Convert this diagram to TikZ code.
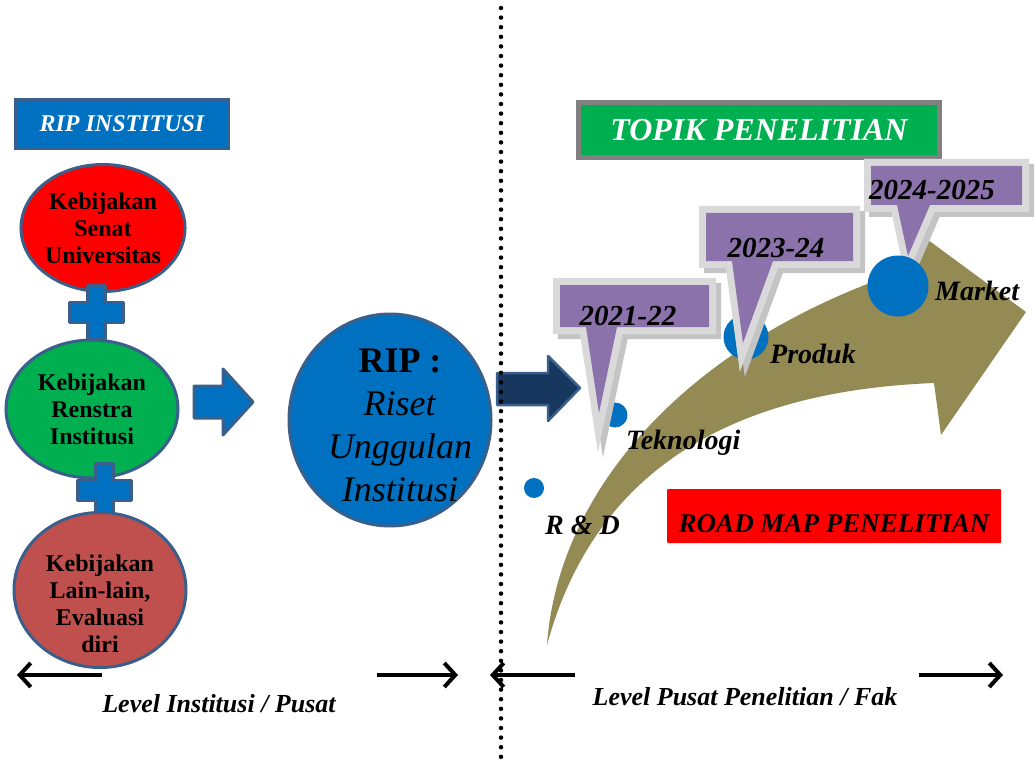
\documentclass[tikz,border=0pt]{standalone}
\usepackage{fontspec}
\setmainfont{Liberation Serif}
\usetikzlibrary{arrows.meta,calc,shapes.geometric}
\newcommand\fsz[2]{\fontsize{#1}{#2}\selectfont}
\definecolor{cblue}{HTML}{0070C0}
\definecolor{cbord}{HTML}{3A5F8B}
\definecolor{cred}{HTML}{FF0000}
\definecolor{cgreen}{HTML}{00B050}
\definecolor{cbrown}{HTML}{C0504D}
\definecolor{cnavy}{HTML}{17375E}
\definecolor{cpurple}{HTML}{8B72AA}
\definecolor{colive}{HTML}{948A54}
\definecolor{cgray}{HTML}{808080}
\definecolor{clight}{HTML}{D9D9D9}
\definecolor{cshadow}{HTML}{C4C4C4}
\tikzset{
  plussign/.pic={\draw[blk] (-27,-10) -- (-9,-10) -- (-9,-27) -- (9,-27) -- (9,-10) -- (27,-10) -- (27,10) -- (9,10) -- (9,27) -- (-9,27) -- (-9,10) -- (-27,10) -- cycle;},
}
\begin{document}
\begin{tikzpicture}[x=1pt,y=-1pt,
  blk/.style={draw=cbord, line width=3pt, fill=cblue, line join=round},
  ell/.style={ellipse, draw=cbord, line width=3pt, inner sep=0pt, align=center, font=\fsz{24}{27}\bfseries},
  lbl/.style={font=\fsz{28}{30}\bfseries\itshape, anchor=base west, inner sep=0pt},
  yr/.style={font=\fsz{29}{30}\bfseries\itshape, anchor=base, inner sep=0pt},
  callfill/.style={fill=cpurple},
  callframe/.style={draw=clight, line width=14pt, line join=miter},
  callshadow/.style={draw=cshadow, fill=cshadow, line width=14pt, line join=miter},
  lvlarrow/.style={line width=4pt, -{Straight Barb[length=11pt,width=24pt]}},
  lvltext/.style={font=\fsz{26}{28}\bfseries\itshape, anchor=base, inner sep=0pt}
]
\useasboundingbox (0,0) rectangle (1036,762);

% ---------- left part ----------
\node[draw=cbord, line width=3pt, fill=cblue, minimum width=213pt, minimum height=49pt,
      text=white, font=\fsz{24}{24}\bfseries\itshape] (ripinst) at (122,124) {RIP INSTITUSI};

\node[ell, fill=cred, minimum width=161pt, minimum height=127pt] (senat) at (103,228) {Kebijakan\\Senat\\Universitas};
\pic at (96,312) {plussign};
\node[ell, fill=cgreen, minimum width=172pt, minimum height=138pt] (renstra) at (92,409) {Kebijakan\\Renstra\\Institusi};
\pic at (104,490) {plussign};
\node[ell, fill=cbrown, minimum width=172pt, minimum height=155pt] (lain) at (100,590) {};
\node[align=center, font=\fsz{24}{27}\bfseries] (laintext) at (100,604) {Kebijakan\\Lain-lain,\\Evaluasi\\diri};

\draw[blk] (194,386) -- (223,386) -- (223,369) -- (253,402) -- (223,435) -- (223,418) -- (194,418) -- cycle;

\node[ellipse, draw=cbord, line width=3pt, fill=cblue, minimum width=202pt, minimum height=212pt] (rip) at (390,420) {};
\node[align=center, font=\fsz{36}{43}, anchor=base] (riptext) at (400,501)
  {\textbf{RIP :}\\\textit{Riset}\\\textit{Unggulan}\\\textit{Institusi}};

% ---------- right part ----------
\draw[draw=cbord, line width=2.5pt, fill=cnavy, line join=round]
  (497,373) -- (548,373) -- (548,356) -- (580,388) -- (548,421) -- (548,405) -- (497,405) -- cycle;

\node[draw=cgray, line width=5pt, fill=cgreen, minimum width=361pt, minimum height=55pt,
      text=white, font=\fsz{32}{32}\bfseries\itshape] (topik) at (759,130) {TOPIK PENELITIAN};

% olive curved arrow
\fill[colive] (547,645) .. controls (558,488) and (690,340) .. (912,268)
  -- (924,237) -- (1026,312) -- (941,435) -- (934,383)
  .. controls (760,390) and (600,450) .. (547,645) -- cycle;

% dots
\fill[cblue] (534,488) circle (10);
\fill[cblue] (615,415) circle (12.5);
\fill[cblue] (746,337) circle (22.5);

% callouts
\path[callshadow, shift={(5,5)}] (560,285) -- (709,285) -- (709,327) -- (617,327) -- (599,413) -- (586,327) -- (560,327) -- cycle;
\path[callframe] (560,285) -- (709,285) -- (709,327) -- (617,327) -- (599,413) -- (586,327) -- (560,327) -- cycle;
\path[callfill] (560,285) -- (709,285) -- (709,327) -- (617,327) -- (599,413) -- (586,327) -- (560,327) -- cycle;
\node[yr] (y1) at (628,325) {2021-22};

\path[callshadow, shift={(5,5)}] (706,213) -- (853,213) -- (853,261) -- (773,261) -- (743,343) -- (732,261) -- (706,261) -- cycle;
\path[callframe] (706,213) -- (853,213) -- (853,261) -- (773,261) -- (743,343) -- (732,261) -- (706,261) -- cycle;
\path[callfill] (706,213) -- (853,213) -- (853,261) -- (773,261) -- (743,343) -- (732,261) -- (706,261) -- cycle;
\node[yr] (y2) at (776,257) {2023-24};

\path[callshadow, shift={(5,5)}] (871,166) -- (1022,166) -- (1022,205) -- (930,205) -- (908,256) -- (897,205) -- (871,205) -- cycle;
\path[callframe] (871,166) -- (1022,166) -- (1022,205) -- (930,205) -- (908,256) -- (897,205) -- (871,205) -- cycle;
\path[callfill] (871,166) -- (1022,166) -- (1022,205) -- (930,205) -- (908,256) -- (897,205) -- (871,205) -- cycle;
\node[yr] (y3) at (932,200) {2024-2025};

\fill[cblue] (898,286) circle (30.5);

% labels
\node[lbl] (market) at (935,300) {Market};
\node[lbl] (produk) at (770,363) {Produk};
\node[lbl] (teknologi) at (626,449) {Teknologi};
\node[lbl] (rnd) at (545,534) {R \& D};

\node[fill=cred, minimum width=334pt, minimum height=54pt, rounded corners=1pt, text height=33pt,
      font=\fsz{27}{27}\bfseries\itshape] (roadmap) at (834,516) {ROAD MAP PENELITIAN};

% level arrows
\coordinate (l1s) at (102,675); \coordinate (l1e) at (17,675);
\coordinate (l2s) at (377,675); \coordinate (l2e) at (458,675);
\coordinate (l3s) at (575,675); \coordinate (l3e) at (490,675);
\coordinate (l4s) at (919,675); \coordinate (l4e) at (1003,675);
\draw[lvlarrow] (l1s) -- (l1e);
\draw[lvlarrow] (l2s) -- (l2e);
\draw[lvlarrow] (l3s) -- (l3e);
\draw[lvlarrow] (l4s) -- (l4e);
\node[lvltext] (lvl1) at (219,712) {Level Institusi / Pusat};
\node[lvltext] (lvl2) at (745,705) {Level Pusat Penelitian / Fak};

% dotted divider
\coordinate (dtop) at (501,8); \coordinate (dbot) at (501,762);
\draw[line width=4.5pt, line cap=round, dash pattern=on 0pt off 9.6pt] (dtop) -- (dbot);
\end{tikzpicture}
\end{document}
